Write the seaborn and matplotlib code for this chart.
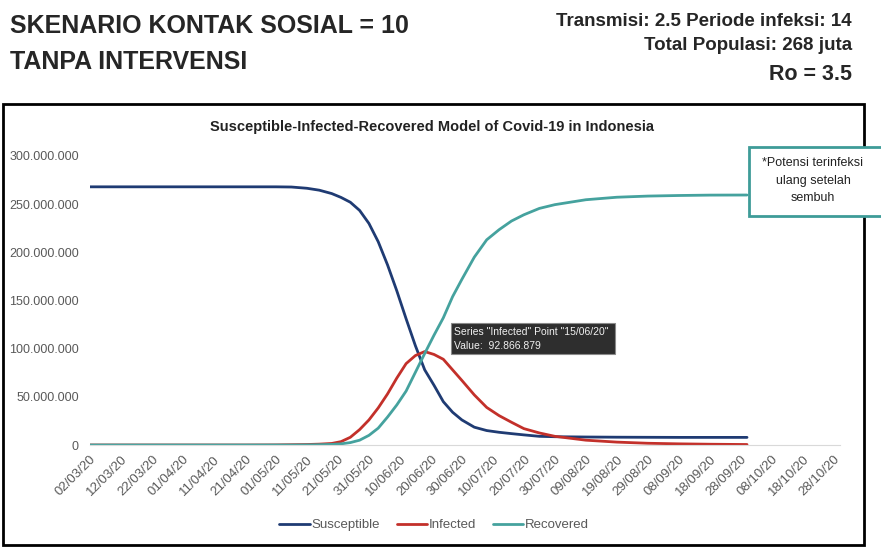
import pandas as pd
import numpy as np
import matplotlib
matplotlib.use('Agg')
import matplotlib.pyplot as plt
import matplotlib.patches as patches
import matplotlib.ticker as mticker
import seaborn as sns

# sampled dates (dd/mm/yy) and values in millions of people
dates = ['02/03/20', '12/03/20', '22/03/20', '01/04/20', '11/04/20', '21/04/20', '01/05/20',
         '06/05/20', '11/05/20', '15/05/20', '19/05/20', '22/05/20', '25/05/20', '28/05/20',
         '31/05/20', '03/06/20', '06/06/20', '09/06/20', '12/06/20', '15/06/20', '18/06/20',
         '21/06/20', '24/06/20', '27/06/20', '30/06/20', '04/07/20', '08/07/20', '12/07/20',
         '16/07/20', '20/07/20', '25/07/20', '30/07/20', '09/08/20', '19/08/20', '29/08/20',
         '08/09/20', '18/09/20', '30/09/20']
susceptible = [268, 268, 268, 268, 268, 268, 268, 267.8, 266.5, 264.5, 261, 257, 252, 243.5,
               230, 211, 187, 160, 131, 103, 78, 62, 45, 34, 26, 18.5, 15, 13.2,
               11.8, 10.5, 9, 8.6, 8.3, 8.1, 8.0, 7.9, 7.9, 7.9]
infected = [0, 0, 0, 0, 0, 0, 0.1, 0.3, 0.5, 0.9, 1.6, 3.5, 8, 16,
            26, 38.5, 53, 69.5, 84.5, 92.866879, 97, 94, 89, 78, 67, 52, 39, 30.5,
            23.6, 17, 12.5, 9, 5, 3, 1.8, 1.2, 0.8, 0.5]
recovered = [0, 0, 0, 0, 0, 0, 0, 0, 0.1, 0.3, 0.6, 1.2, 2.5, 5,
             10, 17.5, 29, 41.6, 56, 75.5, 95, 114, 132, 154, 172, 195, 213, 223.5,
             232.5, 239, 245.6, 249.5, 254.6, 257.2, 258.4, 259, 259.4, 259.5]

series_names = ['Susceptible', 'Infected', 'Recovered']
colors = ['#1F3B73', '#C3302A', '#45A29E']
tick_dates = pd.date_range('2020-03-02', periods=25, freq='10D')

W, H = 881, 547


def px(x, y):
    return x / W, 1 - y / H


df = pd.DataFrame({'date': pd.to_datetime(dates, format='%d/%m/%y'),
                   'Susceptible': susceptible, 'Infected': infected, 'Recovered': recovered})
long_df = df.melt(id_vars='date', var_name='series', value_name='value')

sns.set_style('white')
plt.rcParams['font.family'] = ['Liberation Sans', 'DejaVu Sans']

fig = plt.figure(figsize=(W / 100, H / 100), dpi=100)
ax = fig.add_axes([90 / W, 1 - 445 / H, 750 / W, 289 / H])

sns.lineplot(data=long_df, x='date', y='value', hue='series', hue_order=series_names,
             palette=colors, linewidth=2, ax=ax)

ax.set_xlim(tick_dates[0], tick_dates[0] + pd.Timedelta(days=242))
ax.set_ylim(0, 300)
ax.set_xlabel('')
ax.set_ylabel('')
ax.set_xticks(tick_dates)
ax.set_xticklabels([d.strftime('%d/%m/%y') for d in tick_dates], rotation=45,
                   ha='right', rotation_mode='anchor', fontsize=9.5, color='#595959')
ax.yaxis.set_major_locator(mticker.MultipleLocator(50))
ax.yaxis.set_major_formatter(mticker.FuncFormatter(
    lambda v, p: f'{v * 1e6:,.0f}'.replace(',', '.')))
ax.tick_params(axis='y', length=0, pad=8, labelsize=9, labelcolor='#595959')
ax.tick_params(axis='x', length=0, pad=6)
for s in ['top', 'right', 'left']:
    ax.spines[s].set_visible(False)
ax.spines['bottom'].set_color('#D9D9D9')
ax.grid(False)

leg = ax.legend(loc='center', bbox_to_anchor=(434 / W, 1 - 525 / H), bbox_transform=fig.transFigure,
                ncol=3, frameon=False, fontsize=9.5, handlelength=2.3, handletextpad=0.1,
                columnspacing=1.3)
for t in leg.get_texts():
    t.set_color('#595959')

# chart frame
fig.add_artist(patches.Rectangle(px(3, 545), 861 / W, 441 / H, transform=fig.transFigure,
                                 fill=False, edgecolor='black', linewidth=2))
fig.text(*px(432, 127), 'Susceptible-Infected-Recovered Model of Covid-19 in Indonesia',
         ha='center', va='center', fontsize=10.5, fontweight='bold', color='#222222')

# tooltip
fig.add_artist(patches.Rectangle(px(451, 354), 164 / W, 31 / H, transform=fig.transFigure,
                                 facecolor='#2E2E2E', edgecolor='#8A8A8A', linewidth=0.8))
fig.text(*px(454, 332), 'Series "Infected" Point "15/06/20"', ha='left', va='center',
         fontsize=7.5, color='#F0F0F0')
fig.text(*px(454, 346), 'Value:  92.866.879', ha='left', va='center',
         fontsize=7.5, color='#F0F0F0')

# note box
fig.add_artist(patches.Rectangle(px(749, 216), 150 / W, 69 / H, transform=fig.transFigure,
                                 facecolor='white', edgecolor='#3E9C98', linewidth=2))
for txt, y in [('*Potensi terinfeksi', 163), ('ulang setelah', 181), ('sembuh', 198)]:
    fig.text(*px(813, y), txt, ha='center', va='center', fontsize=9, color='#222222')

# header
fig.text(*px(10, 26), 'SKENARIO KONTAK SOSIAL = 10', ha='left', va='center',
         fontsize=18, fontweight='bold')
fig.text(*px(10, 62), 'TANPA INTERVENSI', ha='left', va='center',
         fontsize=18, fontweight='bold')
fig.text(*px(852, 21), 'Transmisi: 2.5 Periode infeksi: 14', ha='right', va='center',
         fontsize=13.5, fontweight='bold')
fig.text(*px(852, 45), 'Total Populasi: 268 juta', ha='right', va='center',
         fontsize=13.5, fontweight='bold')
fig.text(*px(852, 74), 'Ro = 3.5', ha='right', va='center',
         fontsize=15.5, fontweight='bold')

fig.savefig('out.png', dpi=100)
